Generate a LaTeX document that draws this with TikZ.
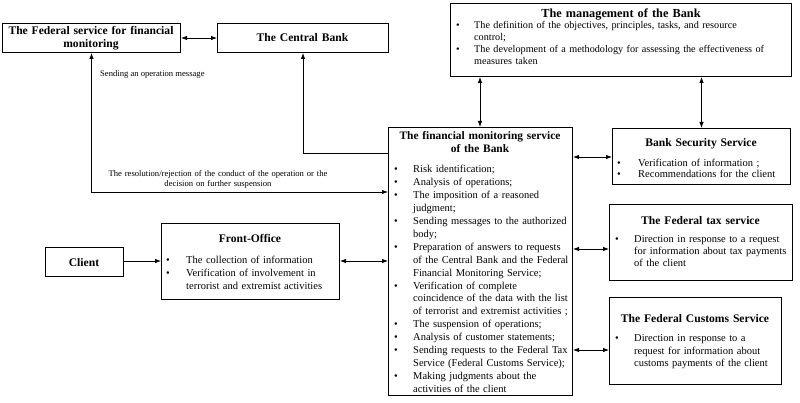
\documentclass[tikz,border=0pt]{standalone}
\usepackage{fontspec}
\setmainfont{Liberation Serif}
\usetikzlibrary{arrows.meta}
\newlength\bgap
\newcommand\nl{\unskip\break}
\newcommand\bitem[1]{\noindent\hangindent=\bgap\hangafter=1\makebox[\bgap][l]{\textbullet}#1\par}
\tikzset{
  box/.style={draw=black, line width=1pt, inner sep=0pt, anchor=north west},
  ttl/.style={font=\bfseries\fontsize{11.6}{13.5}\selectfont, text width=200pt, align=center, inner sep=0pt, anchor=base},
  body/.style={font=\fontsize{10.5}{12.9}\selectfont, text width=200pt, align=left, inner sep=0pt, anchor=base west},
  bg/.style={execute at begin node={\setlength\bgap{#1}}},
  lbl/.style={font=\fontsize{8.6}{9.5}\selectfont, inner sep=0pt},
  conn/.style={line width=0.8pt, draw=black},
  both/.style={conn, {Latex[length=6pt,width=4.5pt]}-{Latex[length=6pt,width=4.5pt]}},
  one/.style={conn, -{Latex[length=6pt,width=4.5pt]}},
}
\begin{document}
\begin{tikzpicture}[x=1pt,y=-1pt]
\useasboundingbox (0,0) rectangle (800,403);
% boxes
\node[box, minimum width=178pt, minimum height=29pt] (fsfm) at (2,23) {};
\node[box, minimum width=171pt, minimum height=29pt] (cb) at (217,23) {};
\node[box, minimum width=341pt, minimum height=73pt] (mgmt) at (450,3) {};
\node[box, minimum width=184pt, minimum height=268pt] (fms) at (388,127) {};
\node[box, minimum width=178pt, minimum height=56pt] (bss) at (612,128) {};
\node[box, minimum width=183pt, minimum height=76pt] (fts) at (609,204) {};
\node[box, minimum width=172pt, minimum height=87pt] (fcs) at (609,297) {};
\node[box, minimum width=178pt, minimum height=76pt] (fo) at (161,223) {};
\node[box, minimum width=78pt, minimum height=29pt] (client) at (45,247) {};
% titles
\node[ttl, font=\bfseries\fontsize{11.6}{13.5}\selectfont] (fsfmT) at (91,34.5) {The Federal service for financial\\monitoring};
\node[ttl] (cbT) at (302.5,42) {The Central Bank};
\node[ttl, font=\bfseries\fontsize{12.3}{14}\selectfont] (mgmtT) at (621,18) {The management of the Bank};
\node[ttl, font=\bfseries\fontsize{11.4}{13}\selectfont] (fmsT) at (480,140) {The financial monitoring service\\of the Bank};
\node[ttl] (bssT) at (701,146.5) {Bank Security Service};
\node[ttl] (ftsT) at (700.5,224.5) {The Federal tax service};
\node[ttl] (fcsT) at (695,322.5) {The Federal Customs Service};
\node[ttl] (foT) at (250,242.5) {Front-Office};
\node[ttl] (clientT) at (84,266) {Client};
% bodies
\node[body, bg=18pt, font=\fontsize{10.2}{12}\selectfont, text width=330pt] (mgmtL) at (456,29) {%
\bitem{The definition of the objectives, principles, tasks, and resource\nl control;}%
\bitem{The development of a methodology for assessing the effectiveness of\nl measures taken}};
\node[body, bg=19pt] (fmsL) at (394,173) {%
\bitem{Risk identification;}%
\bitem{Analysis of operations;}%
\bitem{The imposition of a reasoned\nl judgment;}%
\bitem{Sending messages to the authorized\nl body;}%
\bitem{Preparation of answers to requests\nl of the Central Bank and the Federal\nl Financial Monitoring Service;}%
\bitem{Verification of complete\nl coincidence of the data with the list\nl of terrorist and extremist activities ;}%
\bitem{The suspension of operations;}%
\bitem{Analysis of customer statements;}%
\bitem{Sending requests to the Federal Tax\nl Service (Federal Customs Service);}%
\bitem{Making judgments about the\nl activities of the client}};
\node[body, bg=21pt, font=\fontsize{10.5}{11.2}\selectfont] (bssL) at (617,166.5) {%
\bitem{Verification of information ;}%
\bitem{Recommendations for the client}};
\node[body, bg=19pt, font=\fontsize{10.5}{12}\selectfont] (ftsL) at (615,243) {%
\bitem{Direction in response to a request\nl for information about tax payments\nl of the client}};
\node[body, bg=19pt, font=\fontsize{10.5}{12.5}\selectfont] (fcsL) at (615,341.5) {%
\bitem{Direction in response to a\nl request for information about\nl customs payments of the client}};
\node[body, bg=20pt, font=\fontsize{10.5}{13}\selectfont] (foL) at (166,263.5) {%
\bitem{The collection of information}%
\bitem{Verification of involvement in\nl terrorist and extremist activities}};
% labels
\node[lbl, anchor=base west] (lab1) at (100,77) {Sending an operation message};
\node[lbl, anchor=base, text width=260pt, align=center] (lab2) at (218,177) {The resolution/rejection of the conduct of the operation or the\\decision on further suspension};
% connectors
\coordinate (yCB) at (0,153);
\coordinate (yFS) at (0,192);
\coordinate (xM1) at (480,0);
\coordinate (yB) at (0,157);
\coordinate (yT) at (0,249);
\coordinate (yC) at (0,350);
\coordinate (yF) at (0,261);
\draw[both] (fsfm.east) -- (cb.west);
\draw[both] (mgmt.south -| xM1) -- (fms.north -| xM1);
\draw[both] (mgmt.south -| bss.north) -- (bss.north);
\draw[both] (fms.east |- yB) -- (bss.west |- yB);
\draw[both] (fms.east |- yT) -- (fts.west |- yT);
\draw[both] (fms.east |- yC) -- (fcs.west |- yC);
\draw[one] (fms.west |- yCB) -| (cb.south);
\draw[both] (fsfm.south) |- (fms.west |- yFS);
\draw[one] (client.east |- yF) -- (fo.west |- yF);
\draw[both] (fo.east |- yF) -- (fms.west |- yF);
\end{tikzpicture}
\end{document}
